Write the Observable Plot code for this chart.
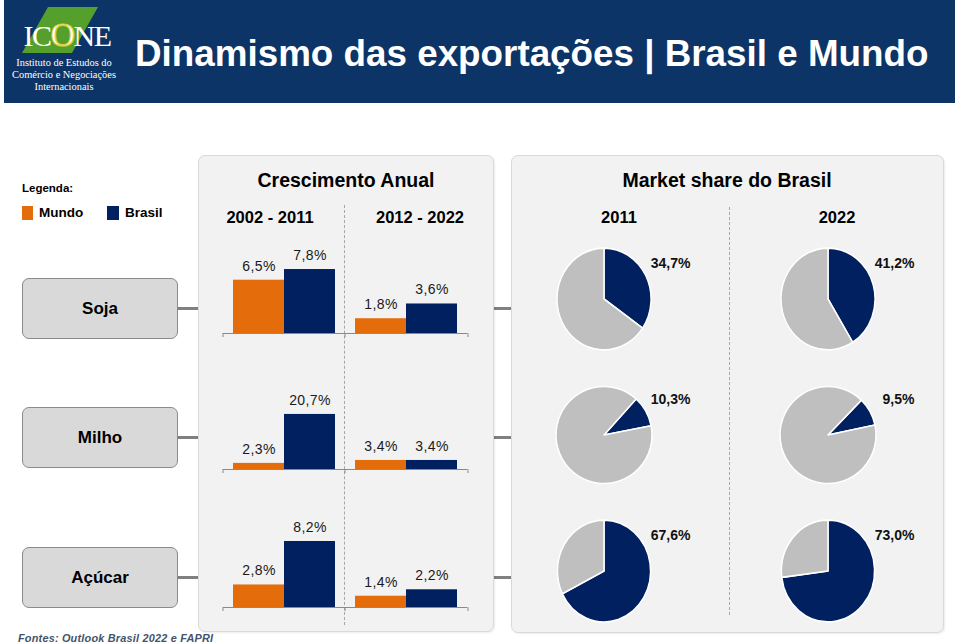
<!DOCTYPE html>
<html><head><meta charset="utf-8">
<script src="https://cdn.jsdelivr.net/npm/d3@7"></script>
<script src="https://cdn.jsdelivr.net/npm/@observablehq/plot@0.6"></script>
<style>
html,body{margin:0;padding:0;}
body{width:959px;height:642px;position:relative;overflow:hidden;background:#fff;font-family:Arial,"Liberation Sans",Helvetica,sans-serif;color:#000;}
.abs{position:absolute;}
.t{position:absolute;white-space:nowrap;line-height:1;}
.panel{position:absolute;background:#f2f2f2;border:1px solid #d9d9d9;border-radius:7px;box-shadow:1px 1px 2px rgba(0,0,0,0.08);box-sizing:border-box;}
.rowbox{position:absolute;left:22px;width:156px;background:#d9d9d9;border:1px solid #8a8a8a;border-radius:7px;box-sizing:border-box;display:flex;align-items:center;justify-content:center;font-weight:bold;font-size:17px;}
.conn{position:absolute;height:3px;background:#808080;}
.vdash{position:absolute;width:0;border-left:1px dashed #a6a6a6;}
svg{overflow:visible;}
</style></head>
<body>
<script>
// ---------------- DATA ----------------
const crops = ["Soja", "Milho", "Açúcar"];
const periods = ["2002 - 2011", "2012 - 2022"];
const series = ["Mundo", "Brasil"];
const years = ["2011", "2022"];
// annual growth (%), per crop, per period
const mundoGrowth = [[6.5, 1.8], [2.3, 3.4], [2.8, 1.4]];
const brasilGrowth = [[7.8, 3.6], [20.7, 3.4], [8.2, 2.2]];
// Brazil market share (%), per crop
const share2011 = [34.7, 10.3, 67.6];
const share2022 = [41.2, 9.5, 73.0];

// ---------------- STYLE ----------------
const orange = "#e46c0a", navy = "#002060", gray = "#bfbfbf";
const fmt = v => v.toFixed(1).replace(".", ",") + "%";

function el(tag, cls, style, html) {
  const e = document.createElement(tag);
  if (cls) e.className = cls;
  if (style) e.setAttribute("style", style);
  if (html != null) e.innerHTML = html;
  document.body.appendChild(e);
  return e;
}
function txt(s, cx, cy, style, anchor) {
  const tx = anchor === "start" ? "0" : anchor === "end" ? "-100%" : "-50%";
  return el("div", "t", `left:${cx}px;top:${cy}px;transform:translate(${tx},-50%);${style||""}`, s);
}

// ---------------- HEADER ----------------
el("div", "abs", "left:4px;top:0;width:951px;height:103px;background:#0c3467;");
el("div", "abs", "left:4px;top:0;width:128px;height:103px;", `
<svg width="128" height="103" style="position:absolute;left:0;top:0">
  <polygon points="44,7 94,7 68,53 18,53" fill="#55a02d"/>
</svg>`);
txt(`IC<span style="color:#fff;-webkit-text-stroke:1.2px #d9cf3a;font-size:34px;">O</span>NE`, 67, 35,
  "font-family:'Liberation Serif',serif;font-size:30px;color:#fff;letter-spacing:-1.5px;");
const logoLine = "font-family:'Liberation Serif',serif;font-size:10.4px;color:#fff;";
txt("Instituto de Estudos do", 64, 63, logoLine);
txt("Comércio e Negociações", 64, 75, logoLine);
txt("Internacionais", 64, 87, logoLine);
txt("Dinamismo das exportações | Brasil e Mundo", 135, 54, "font-size:36.8px;font-weight:bold;color:#fff;", "start");

// ---------------- LEGEND ----------------
txt("Legenda:", 22, 189, "font-size:11.5px;font-weight:bold;", "start");
el("div", "abs", `left:22px;top:206px;width:11px;height:14px;background:${orange};`);
txt(series[0], 39, 213, "font-size:13.5px;font-weight:bold;", "start");
el("div", "abs", `left:107px;top:206px;width:12px;height:14px;background:${navy};`);
txt(series[1], 125, 213, "font-size:13.5px;font-weight:bold;", "start");

// ---------------- PANELS ----------------
const rowCenters = [308, 437, 577];
const rowBoxTop = [278, 407, 547];
rowCenters.forEach((c, i) => {
  el("div", "conn", `left:178px;width:21px;top:${c - 1.5}px;`);
  el("div", "conn", `left:493px;width:19px;top:${c - 1.5}px;`);
});
el("div", "panel", "left:198px;top:155px;width:296px;height:477px;");
el("div", "panel", "left:511px;top:155px;width:433px;height:478px;");
crops.forEach((c, i) => el("div", "rowbox", `top:${rowBoxTop[i]}px;height:61px;`, c));

txt("Crescimento Anual", 346, 181, "font-size:19.5px;font-weight:bold;");
txt(periods[0], 270, 217, "font-size:16.5px;font-weight:bold;");
txt(periods[1], 420, 217, "font-size:16.5px;font-weight:bold;");
txt("Market share do Brasil", 727, 181, "font-size:19.5px;font-weight:bold;");
txt(years[0], 619, 217, "font-size:16.5px;font-weight:bold;");
txt(years[1], 837, 217, "font-size:16.5px;font-weight:bold;");
el("div", "vdash", "left:344px;top:205px;height:420px;");
el("div", "vdash", "left:729px;top:207px;height:408px;");

// ---------------- BAR CHARTS ----------------
const barLayout = [
  {top: 240, height: 100, plotH: 82, ymax: 10},
  {top: 370, height: 106, plotH: 66.5, ymax: 25},
  {top: 505, height: 109, plotH: 80.5, ymax: 10}
];
crops.forEach((crop, i) => {
  const rows = [];
  periods.forEach((p, j) => {
    rows.push({period: p, serie: series[0], v: mundoGrowth[i][j]});
    rows.push({period: p, serie: series[1], v: brasilGrowth[i][j]});
  });
  const L = barLayout[i];
  const ppu = L.plotH / L.ymax;
  const tickLen = -4 / ppu;
  const chart = Plot.plot({
    width: 296, height: L.height,
    marginLeft: 25, marginRight: 27, marginTop: L.height - 7 - L.plotH, marginBottom: 7,
    fx: {domain: periods, paddingInner: 0.16, paddingOuter: 0.08, axis: null, label: null},
    x: {domain: series, padding: 0, axis: null},
    y: {domain: [0, L.ymax], axis: null},
    color: {domain: series, range: [orange, navy]},
    style: {background: "transparent", overflow: "visible", fontFamily: "Arial, 'Liberation Sans', sans-serif", letterSpacing: "0.4px"},
    marks: [
      Plot.barY(rows, {fx: "period", x: "serie", y: "v", fill: "serie"}),
      Plot.ruleY([0], {stroke: "#8a8a8a", strokeWidth: 1, insetLeft: -10, insetRight: -10}),
      Plot.ruleX(periods, {fx: d => d, x: () => series[0], y1: 0, y2: tickLen, dx: -36, stroke: "#8a8a8a"}),
      Plot.ruleX([periods[1]], {fx: d => d, x: () => series[1], y1: 0, y2: tickLen, dx: 36, stroke: "#8a8a8a"}),
      Plot.text(rows, {fx: "period", x: "serie", y: "v", text: d => fmt(d.v), dy: -14, fontSize: 14, fill: "#1a1a1a"})
    ]
  });
  chart.style.position = "absolute";
  chart.style.left = "198px";
  chart.style.top = L.top + "px";
  document.body.appendChild(chart);
});

// ---------------- PIE CHARTS ----------------
const pieRows = [];
crops.forEach((c, i) => {
  pieRows.push({crop: c, year: years[0], share: share2011[i]});
  pieRows.push({crop: c, year: years[1], share: share2022[i]});
});
const pieRotationDeg = {"Soja|2011": 0, "Soja|2022": 0, "Milho|2011": 42, "Milho|2022": 44, "Açúcar|2011": 0, "Açúcar|2022": 0};
const pieSquash = {"Soja": [0.98, 1.06], "Milho": [1, 1.01], "Açúcar": [0.97, 1.06]};
const pieChart = Plot.plot({
  width: 433, height: 392, margin: 0,
  x: {type: "point", domain: years, range: [92.5, 316.5], padding: 0, axis: null},
  y: {type: "point", domain: crops, range: [59, 331], padding: 0, axis: null},
  style: {background: "transparent", overflow: "visible", fontFamily: "Arial, 'Liberation Sans', sans-serif"},
  marks: [
    (index, scales) => {
      const g = d3.create("svg:g");
      const arc = d3.arc().innerRadius(0).outerRadius(48);
      for (const d of pieRows) {
        const rot = pieRotationDeg[d.crop + "|" + d.year] * Math.PI / 180;
        const arcs = d3.pie().sort(null).value(s => s.v).startAngle(rot).endAngle(rot + 2 * Math.PI)(
          [{k: "Brasil", v: d.share}, {k: "Outros", v: 100 - d.share}]);
        const [sx, sy] = pieSquash[d.crop];
        g.append("g")
          .attr("transform", `translate(${scales.x(d.year)},${scales.y(d.crop)}) scale(${sx},${sy})`)
          .selectAll("path").data(arcs).join("path")
          .attr("d", arc)
          .attr("fill", a => a.data.k === "Brasil" ? navy : gray)
          .attr("stroke", "#fff").attr("stroke-width", 1.5).attr("stroke-linejoin", "round");
      }
      return g.node();
    },
    Plot.text(pieRows, {x: "year", y: "crop", text: d => fmt(d.share), dx: 86, dy: -36, textAnchor: "end", fontWeight: "bold", fontSize: 14, fill: "#111"})
  ]
});
pieChart.style.position = "absolute";
pieChart.style.left = "511px";
pieChart.style.top = "240px";
document.body.appendChild(pieChart);

// ---------------- FOOTER ----------------
txt("Fontes: Outlook Brasil 2022 e FAPRI", 18, 638, "font-size:10.9px;font-weight:bold;font-style:italic;color:#44546a;letter-spacing:0.2px;", "start");
</script>
</body></html>
